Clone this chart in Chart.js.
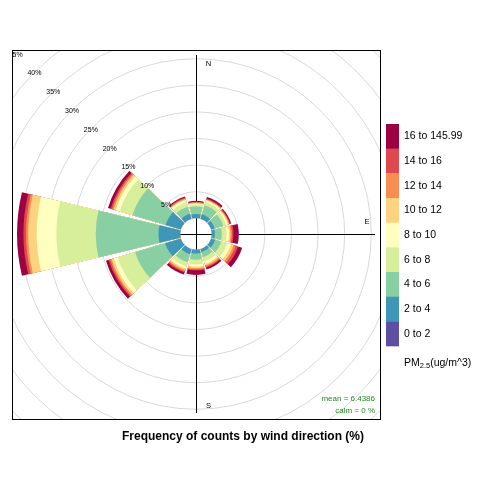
<!DOCTYPE html>
<html><head><meta charset="utf-8">
<script src="https://cdn.jsdelivr.net/npm/chart.js@4.4.0/dist/chart.umd.min.js"></script>
<style>html,body{margin:0;padding:0;background:#fff;}#wrap{width:480px;height:480px;}</style>
</head><body><div id="wrap"><canvas id="c" width="480" height="480"></canvas></div>
<script>
// ---- data ----
const directions = [0, 30, 60, 90, 120, 150, 180, 210, 240, 270, 300, 330];
const binLabels = ['0 to 2', '2 to 4', '4 to 6', '6 to 8', '8 to 10', '10 to 12', '12 to 14', '14 to 16', '16 to 145.99'];
const binColors = ['#5E4FA2', '#3F97B7', '#88CFA4', '#D7EF9B', '#FFFFBF', '#FED380', '#F88D52', '#DD494C', '#9E0142'];
const pm0_2   = [0, 0, 0, 0, 0, 0, 0, 0, 0, 0, 0, 0];
const pm2_4   = [0.8, 0.9, 0.7, 0.6, 0.8, 0.6, 0.7, 1.0, 3.1, 4.1, 3.0, 1.0];
const pm4_6   = [1.4, 1.8, 1.7, 1.3, 1.2, 1.0, 1.2, 1.6, 5.9, 11.8, 6.5, 1.4];
const pm6_8   = [0.4, 0.6, 0.6, 0.9, 1.2, 0.8, 0.85, 0.8, 3.4, 7.4, 2.5, 0.9];
const pm8_10  = [0.2, 0.3, 0.3, 0.45, 0.7, 0.5, 0.45, 0.4, 0.8, 3.7, 0.8, 0.4];
const pm10_12 = [0.1, 0.15, 0.2, 0.3, 0.5, 0.3, 0.3, 0.3, 0.4, 1.6, 0.4, 0.2];
const pm12_14 = [0.1, 0.1, 0.1, 0.25, 0.4, 0.25, 0.2, 0.25, 0.3, 0.4, 0.3, 0.15];
const pm14_16 = [0.1, 0.15, 0.15, 0.3, 0.5, 0.2, 0.2, 0.25, 0.3, 0.5, 0.3, 0.15];
const pm16_up = [0.2, 0.3, 0.2, 1.0, 0.8, 0.35, 0.85, 0.4, 0.5, 1.2, 0.5, 0.2];
const freqTicks = [5, 10, 15, 20, 25, 30, 35, 40, 45];
const meanText = 'mean = 6.4386';
const calmText = 'calm = 0 %';
const titleText = 'Frequency of counts by wind direction (%)';

// ---- geometry / style ----
const OFFSET = 2.95;       // centre hole, in % units
const R_MIN = -OFFSET;
const R_MAX = 31.64;
const SEG = 0.9;
const FONT = '"Liberation Sans", Arial, sans-serif';

const bins = [pm0_2, pm2_4, pm4_6, pm6_8, pm8_10, pm10_12, pm12_14, pm14_16, pm16_up];
const sector = 360 / directions.length;
const wedgeDeg = sector * SEG, gapDeg = sector - wedgeDeg;
const labels = [], angles = [];
directions.forEach(d => { labels.push(String(d)); angles.push(wedgeDeg); labels.push(''); angles.push(gapDeg); });
let cum = directions.map(() => 0);
const datasets = bins.map((b, k) => {
  cum = cum.map((c, i) => c + b[i]);
  const data = [];
  cum.forEach(v => { data.push(v); data.push(R_MIN); });
  return { label: binLabels[k], data, backgroundColor: binColors[k], borderWidth: 0,
           angle: ctx => angles[ctx.dataIndex] };
});
const maxFreq = Math.max(...cum);

const deco = {
  id: 'deco',
  beforeDatasetsDraw(chart) {
    const ctx = chart.ctx, a = chart.chartArea, s = chart.scales.r;
    const cx = s.xCenter, cy = s.yCenter;
    const L = s.getDistanceFromCenterForValue(maxFreq);
    ctx.save();
    ctx.beginPath(); ctx.rect(a.left, a.top, a.right - a.left, a.bottom - a.top); ctx.clip();
    ctx.strokeStyle = '#D9D9D9'; ctx.lineWidth = 1;
    freqTicks.forEach(t => {
      ctx.beginPath(); ctx.arc(cx, cy, s.getDistanceFromCenterForValue(t), 0, Math.PI * 2); ctx.stroke();
    });
    ctx.strokeStyle = '#000';
    ctx.beginPath();
    ctx.moveTo(cx + 0.5, cy - L); ctx.lineTo(cx + 0.5, cy + L);
    ctx.moveTo(cx - L, cy + 0.5); ctx.lineTo(cx + L, cy + 0.5);
    ctx.stroke();
    ctx.fillStyle = '#000'; ctx.font = '7.5px ' + FONT; ctx.textAlign = 'center'; ctx.textBaseline = 'middle';
    ctx.fillText('N', cx + 0.07 * L, cy - 0.95 * L);
    ctx.fillText('S', cx + 0.07 * L, cy + 0.96 * L);
    ctx.fillText('E', cx + 0.955 * L, cy - 0.07 * L);
    ctx.fillText('W', cx - 0.955 * L, cy - 0.07 * L);
    ctx.restore();
  },
  afterDatasetsDraw(chart) {
    const ctx = chart.ctx, a = chart.chartArea, s = chart.scales.r;
    const cx = s.xCenter, cy = s.yCenter;
    const r0 = s.getDistanceFromCenterForValue(0);
    const L = s.getDistanceFromCenterForValue(maxFreq);
    ctx.save();
    ctx.fillStyle = '#fff';
    ctx.beginPath(); ctx.arc(cx, cy, r0, 0, Math.PI * 2); ctx.fill();
    ctx.strokeStyle = '#000'; ctx.lineWidth = 1;
    ctx.beginPath();
    ctx.moveTo(cx + 0.5, cy - r0); ctx.lineTo(cx + 0.5, cy + r0);
    ctx.moveTo(cx - r0, cy + 0.5); ctx.lineTo(cx + r0, cy + 0.5);
    ctx.stroke();
    ctx.beginPath(); ctx.rect(a.left, a.top, a.right - a.left, a.bottom - a.top); ctx.clip();
    ctx.fillStyle = '#000'; ctx.font = '7px ' + FONT; ctx.textAlign = 'center'; ctx.textBaseline = 'middle';
    freqTicks.forEach(t => {
      const r = s.getDistanceFromCenterForValue(t);
      ctx.fillText(t + '%', cx - r * Math.SQRT1_2, cy - r * Math.SQRT1_2 + 1);
    });
    ctx.fillStyle = '#228B22'; ctx.font = '8px ' + FONT; ctx.textAlign = 'right'; ctx.textBaseline = 'alphabetic';
    ctx.fillText(meanText, cx + L, cy + L - 12);
    ctx.fillText(calmText, cx + L, cy + L);
    ctx.restore();
    // panel border
    ctx.save();
    ctx.strokeStyle = '#000'; ctx.lineWidth = 1;
    ctx.strokeRect(a.left + 0.5, a.top + 0.5, a.right - a.left, a.bottom - a.top);
    // title
    ctx.fillStyle = '#000'; ctx.font = 'bold 12px ' + FONT; ctx.textAlign = 'center'; ctx.textBaseline = 'middle';
    ctx.fillText(titleText, 243, 437);
    // legend colour key
    const kx = 386, kw = 13, ky = 124, kh = 24.67;
    ctx.font = '10.5px ' + FONT; ctx.textAlign = 'left'; ctx.textBaseline = 'middle';
    for (let k = bins.length - 1, j = 0; k >= 0; k--, j++) {
      ctx.fillStyle = binColors[k];
      ctx.fillRect(kx, ky + j * kh, kw, kh + 0.3);
      ctx.fillStyle = '#000';
      ctx.fillText(binLabels[k], 404, ky + j * kh + kh / 2);
    }
    ctx.textBaseline = 'alphabetic';
    let tx = 404;
    ctx.font = '10.5px ' + FONT; ctx.fillText('PM', tx, 366); tx += ctx.measureText('PM').width;
    ctx.font = '7.5px ' + FONT; ctx.fillText('2.5', tx, 368); tx += ctx.measureText('2.5').width;
    ctx.font = '10.5px ' + FONT; ctx.fillText('(ug/m^3)', tx, 366);
    ctx.restore();
  }
};

new Chart(document.getElementById('c'), {
  type: 'polarArea',
  data: { labels, datasets },
  options: {
    responsive: false, animation: false, devicePixelRatio: 1,
    layout: { padding: { left: 12, top: 50, right: 100, bottom: 61 } },
    plugins: { legend: { display: false }, tooltip: { enabled: false }, title: { display: false } },
    scales: { r: { min: R_MIN, max: R_MAX, startAngle: -wedgeDeg / 2,
      grid: { display: false }, angleLines: { display: false },
      ticks: { display: false }, pointLabels: { display: false } } }
  },
  plugins: [deco]
});
</script></body></html>
